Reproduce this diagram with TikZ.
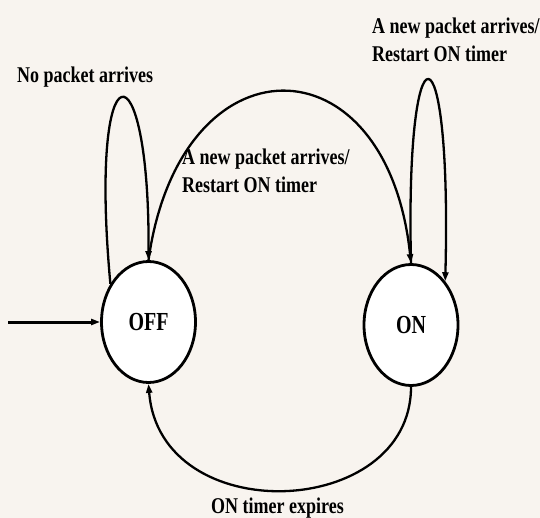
\documentclass[tikz,border=0pt]{standalone}
\usepackage{graphicx}
\usepackage{fontspec}
\setmainfont{Liberation Serif}
\usetikzlibrary{shapes.geometric,arrows.meta}
\newcommand{\vstretch}[2]{\scalebox{1}[#1]{#2}}
\definecolor{bgtint}{RGB}{248,244,239}
\begin{document}
\begin{tikzpicture}[x=1pt,y=-1pt,
  state/.style={ellipse,draw,line width=2.8pt,fill=white,minimum width=94pt,minimum height=121pt,inner sep=0pt,
    font=\bfseries\fontsize{20}{24}\selectfont},
  trans/.style={line width=2.3pt,-{Triangle[length=9pt,width=6pt]}},
  lbl/.style={inner sep=0pt,anchor=base west,font=\bfseries\fontsize{18}{21.7}\selectfont}]
\fill[bgtint] (0,0) rectangle (540,518);
\useasboundingbox (0,0) rectangle (540,518);
% states
\node[state] (off) at (148.5,322) {\vstretch{1.3}{OFF}};
\node[state] (on) at (411,325) {\vstretch{1.3}{ON}};
% initial arrow
\coordinate (init) at (8,322);
\draw[trans,line width=3pt] (init) -- (off.west);
% OFF self loop
\draw[trans] (off.135) .. controls (88,40) and (150,40) .. (off.north);
% OFF -> ON
\draw[trans] (off.north) .. controls (180,35) and (387,35) .. (on.north);
% ON self loop
\draw[trans] (on.north) .. controls (405,16) and (452,16) .. (on.52);
% ON -> OFF
\draw[trans] (on.south) .. controls (411,520) and (160,530) .. (off.south);
% labels
\node[lbl] (nopkt) at (17,83) {\vstretch{1.25}{No packet arrives}};
\node[lbl] (onloop) at (372,34) {\vstretch{1.25}{\begin{tabular}[t]{@{}l@{}}A new packet arrives/\\Restart ON timer\end{tabular}}};
\node[lbl] (offon) at (182,165) {\vstretch{1.25}{\begin{tabular}[t]{@{}l@{}}A new packet arrives/\\Restart ON timer\end{tabular}}};
\node[lbl] (expires) at (211,513) {\vstretch{1.25}{ON timer expires}};
\end{tikzpicture}
\end{document}
